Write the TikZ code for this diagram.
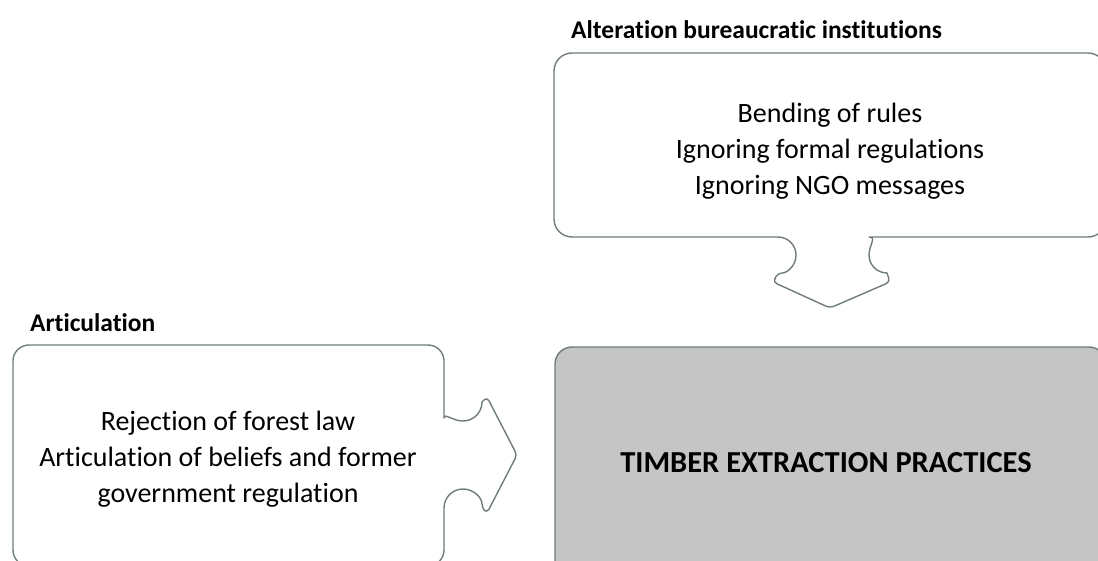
\documentclass[tikz,border=0pt]{standalone}
\usepackage{fontspec}
\setmainfont{Carlito}[Ligatures={NoCommon}]
\definecolor{edge}{RGB}{112,125,118}
\definecolor{core}{RGB}{197,197,197}
\begin{document}
\begin{tikzpicture}[x=1pt,y=1pt,
  outline/.style={draw=edge,line width=1.4pt,line join=round},
  heading/.style={font=\fontsize{25.5}{30}\selectfont\bfseries,anchor=west,inner sep=0pt},
  body/.style={font=\fontsize{28}{36}\selectfont,align=center,inner sep=0pt},
]
\useasboundingbox (0,0) rectangle (1098,-561);
\clip (0,0) rectangle (1098,-561);

% gray target box
\draw[outline,fill=core,rounded corners=17] (555,-347) rectangle (1106,-580);
\node[font=\fontsize{30.5}{36}\selectfont\bfseries,inner sep=0pt] (core) at (826,-463) {TIMBER EXTRACTION PRACTICES};

% upper box with downward arrow tab
\draw[outline] (554,-145) [rounded corners=18] -- (554,-53) -- (1106,-53) -- (1106,-237) -- (887,-237)
  [sharp corners] arc[start angle=90,end angle=270,radius=18]
  [rounded corners=4] -- (890,-282) -- (830,-308) -- (773,-282) -- (778,-273)
  [sharp corners] arc[start angle=-90,end angle=90,radius=18]
  [rounded corners=18] -- (554,-237) -- cycle;
\node[body] (alter) at (830,-151) {Bending of rules\\Ignoring formal regulations\\Ignoring NGO messages};
\node[heading] (alterhead) at (571,-30) {Alteration bureaucratic institutions};

% left box with rightward arrow tab
\draw[outline] (228,-345) [rounded corners=16] -- (444,-345) -- (444,-402)
  [sharp corners] arc[start angle=180,end angle=360,radius=19]
  [rounded corners=4] -- (487,-397) -- (517,-455) -- (487,-513) -- (482,-508)
  [sharp corners] arc[start angle=0,end angle=180,radius=19]
  [rounded corners=16] -- (444,-566) -- (13,-566) -- (13,-345) -- cycle;
\node[body] (artic) at (228,-459) {Rejection of forest law\\Articulation of beliefs and former\\government regulation};
\node[heading] (artichead) at (30,-323) {Articulation};
\end{tikzpicture}
\end{document}
